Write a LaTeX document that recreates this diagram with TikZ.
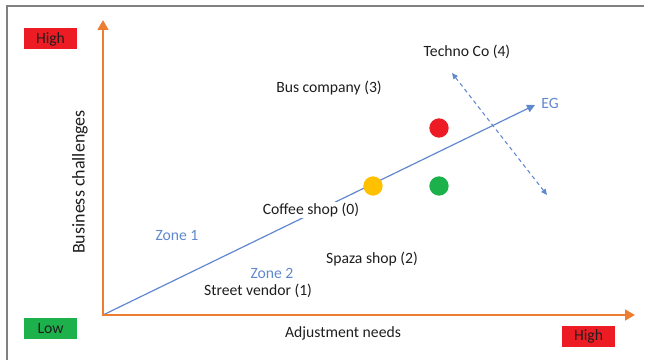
\documentclass[tikz,border=0pt]{standalone}
\usepackage{fontspec}
\setmainfont{Carlito}
\usetikzlibrary{arrows.meta,positioning}

\definecolor{axisorange}{RGB}{237,125,49}
\definecolor{egblue}{RGB}{96,136,206}
\definecolor{hired}{RGB}{237,28,36}
\definecolor{logreen}{RGB}{29,177,76}
\definecolor{dotyellow}{RGB}{255,192,0}
\definecolor{txtgray}{RGB}{30,30,30}

\tikzset{
  firm/.style={font=\fontsize{11.75}{14}\selectfont, text=txtgray, fill=white, inner sep=0.8pt},
  zone/.style={font=\fontsize{11.75}{14}\selectfont, text=egblue},
  level/.style={minimum width=39.75pt, minimum height=15.75pt, inner sep=0pt,
    font=\fontsize{11.75}{14}\selectfont, text=txtgray},
  axis/.style={draw=axisorange, line width=2.2pt, -{Triangle[length=7.5pt,width=8pt]}},
  egline/.style={draw=egblue, line width=0.9pt},
  dot/.style={circle, minimum size=14.5pt, inner sep=0pt}
}

\begin{document}
\begin{tikzpicture}[x=0.75pt,y=-0.75pt]
 \useasboundingbox (0,0) rectangle (645,360);
 % frame
 \draw[gray, line width=1.1pt] (7,360) -- (7,6) -- (644,6);

 % axes
 \coordinate (o) at (103,315);
 \coordinate (ytip) at (103,20);
 \coordinate (xtip) at (635,315);
 \coordinate (egtip) at (535,105);
 \coordinate (dtop) at (452,73);
 \coordinate (dbot) at (547,195);

 % edges
 \draw[egline, -{Triangle[length=6pt,width=6pt]}] (o) -- (egtip);
 \draw[egline, line width=0.8pt, dash pattern=on 3pt off 2.5pt,
   {Triangle[length=4.5pt,width=4pt]}-{Triangle[length=4.5pt,width=4pt]}] (dtop) -- (dbot);
 \draw[axis] (o) -- (ytip);
 \draw[axis] ([xshift=-1.1pt]o) -- (xtip);

 % nodes
 \node[level, fill=hired] (yhigh) at (50.5,39) {High};
 \node[level, fill=logreen] (low) at (50.5,328.5) {Low};
 \node[level, fill=hired] (xhigh) at (588.5,336.5) {High};
 \node[font=\fontsize{11.75}{14}\selectfont, text=txtgray] (xlab) at (343,333) {Adjustment needs};
 \node[font=\fontsize{13.5}{16}\selectfont, text=txtgray, rotate=90] (ylab) at (80,182) {Business challenges};

 \node[dot, fill=hired] (reddot) at (439,128) {};
 \node[dot, fill=dotyellow] (yellowdot) at (373,186) {};
 \node[dot, fill=logreen] (greendot) at (439,186) {};

 \node[zone] (eg) at (550,103) {EG};
 \node[firm] (techno) at (467,52) {Techno Co (4)};
 \node[firm] (bus) at (329,88) {Bus company (3)};
 \node[firm] (coffee) at (311,210) {Coffee shop (0)};
 \node[zone] (zone1) at (177,236) {Zone 1};
 \node[firm] (spaza) at (372,259) {Spaza shop (2)};
 \node[zone] (zone2) at (272,273) {Zone 2};
 \node[firm, fill=none] (street) at (258,291) {Street vendor (1)};
\end{tikzpicture}
\end{document}
